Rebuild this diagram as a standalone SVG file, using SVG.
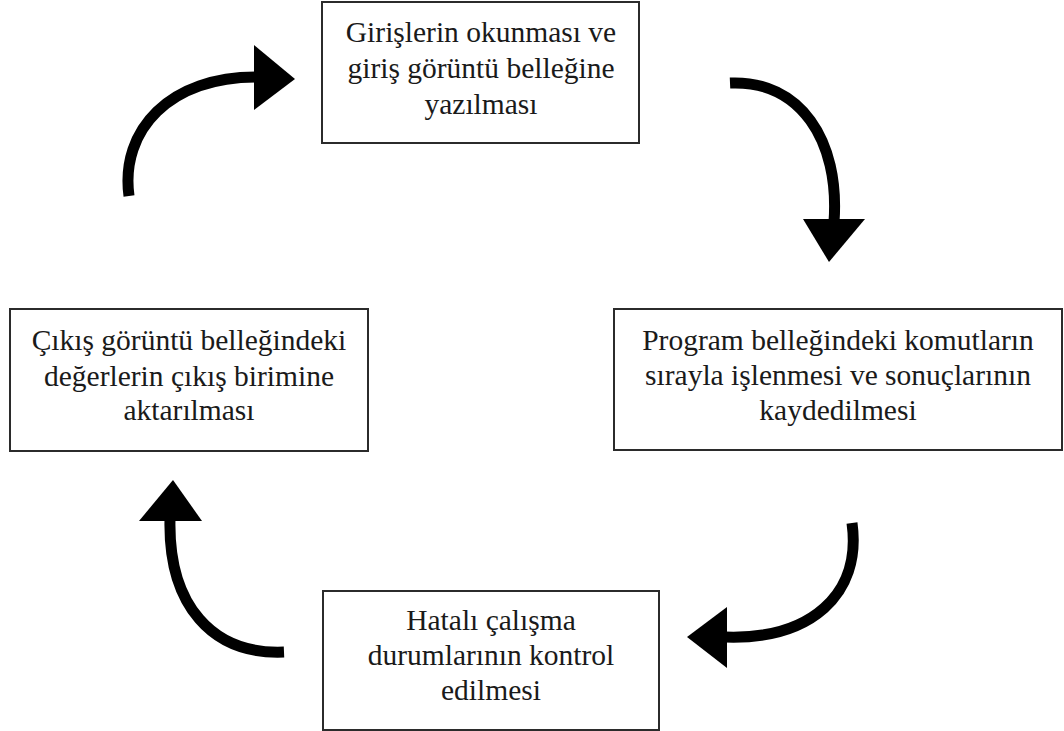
<svg xmlns="http://www.w3.org/2000/svg" width="1064" height="731" viewBox="0 0 1064 731">
  <style>
    .box { fill: #ffffff; stroke: #2b2b2b; stroke-width: 2; }
    .label { font-family: "Liberation Serif", "Times New Roman", serif; font-size: 29.5px; fill: #1a1a1a; text-anchor: middle; }
    .flow { fill: none; stroke: #000000; stroke-width: 11; }
    .head { fill: #000000; stroke: none; }
  </style>
  <rect width="1064" height="731" fill="#ffffff"/>

  <!-- cycle steps -->
  <g id="node-read-inputs">
    <rect class="box" x="322" y="2" width="317" height="141"/>
    <text class="label" x="481" y="42">Girişlerin okunması ve</text>
    <text class="label" x="481" y="78">giriş görüntü belleğine</text>
    <text class="label" x="481" y="114">yazılması</text>
  </g>

  <g id="node-execute-program">
    <rect class="box" x="614" y="309" width="448" height="141"/>
    <text class="label" x="838" y="350">Program belleğindeki komutların</text>
    <text class="label" x="838" y="385">sırayla işlenmesi ve sonuçlarının</text>
    <text class="label" x="838" y="420">kaydedilmesi</text>
  </g>

  <g id="node-error-check">
    <rect class="box" x="323" y="591" width="336" height="139"/>
    <text class="label" x="491" y="630">Hatalı çalışma</text>
    <text class="label" x="491" y="665">durumlarının kontrol</text>
    <text class="label" x="491" y="700">edilmesi</text>
  </g>

  <g id="node-write-outputs">
    <rect class="box" x="10" y="309" width="358" height="142"/>
    <text class="label" x="189" y="350">Çıkış görüntü belleğindeki</text>
    <text class="label" x="189" y="386">değerlerin çıkış birimine</text>
    <text class="label" x="189" y="420">aktarılması</text>
  </g>

  <!-- curved connectors between steps -->
  <g id="connectors">
    <path class="flow" d="M129,196 C120,130 170,76 258,77"/>
    <polygon class="head" points="254,45 295,79 254,110"/>

    <path class="flow" d="M730,83 C800,80 840,140 834,222"/>
    <polygon class="head" points="803,219 865,219 829,262"/>

    <path class="flow" d="M852,523 C862,595 810,640 725,637"/>
    <polygon class="head" points="727,607 687,637 727,668"/>

    <path class="flow" d="M170,519 C168,605 212,655 284,652"/>
    <polygon class="head" points="139,521 173,480 202,521"/>
  </g>
</svg>
